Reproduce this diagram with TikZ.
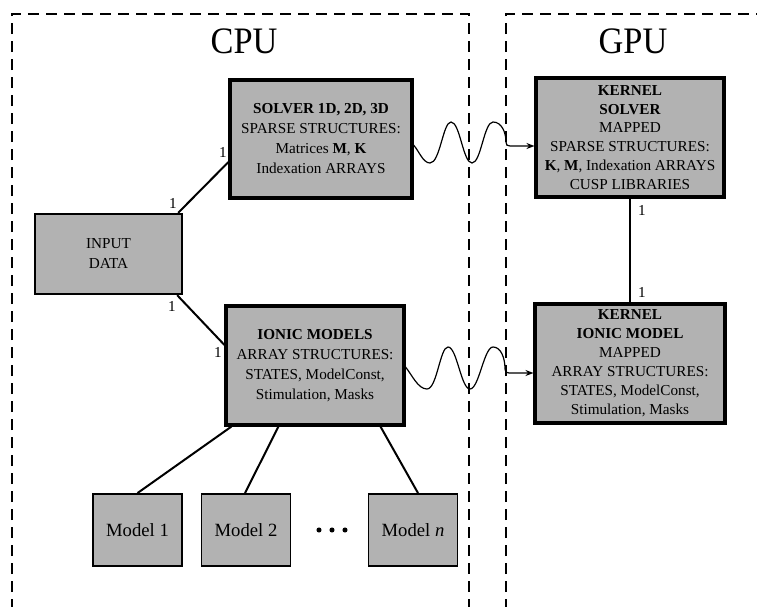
\documentclass[tikz,border=0pt]{standalone}
\usepackage{fontspec}
\setmainfont{Liberation Serif}
\usetikzlibrary{arrows.meta,calc}
\begin{document}
\begin{tikzpicture}[x=0.75pt,y=-0.75pt,
  region/.style={line width=1.7pt,dash pattern=on 8pt off 5.5pt},
  mainbox/.style={draw,line width=2.3pt,fill=black!30,align=center,inner sep=0pt,
    font=\fontsize{11.4}{15}\selectfont},
  kernbox/.style={mainbox,font=\fontsize{11.4}{14.2}\selectfont},
  inbox/.style={draw,line width=1.8pt,fill=black!30,align=center,inner sep=0pt,
    font=\fontsize{11.4}{15}\selectfont},
  modbox/.style={draw,line width=1.4pt,fill=black!30,inner sep=0pt,
    minimum width=66.75pt,minimum height=54pt,font=\fontsize{14}{16}\selectfont},
  link/.style={line width=1.5pt},
  wave/.style={line width=0.9pt,-{Stealth[length=6pt,width=4.5pt]}},
  mult/.style={inner sep=0pt,font=\fontsize{11.4}{13}\selectfont},
  title/.style={inner sep=0pt,font=\fontsize{28}{30}\selectfont}]
\useasboundingbox (0,0) rectangle (757,607);
% regions
\draw[region] (12,610) -- (12,14) -- (469,14) -- (469,610);
\draw[region] (506,610) -- (506,14) -- (760,14);
\node[title,anchor=base] (cpu) at (244,53) {\scalebox{0.92}[1]{CPU}};
\node[title,anchor=base] (gpu) at (633,53) {\scalebox{0.92}[1]{GPU}};
% boxes
\node[mainbox,minimum width=136.5pt,minimum height=88.5pt] (solver) at (321,139)
  {\textbf{SOLVER 1D, 2D, 3D}\\SPARSE STRUCTURES:\\Matrices \textbf{M}, \textbf{K}\\Indexation ARRAYS};
\node[kernbox,minimum width=141pt,minimum height=89.25pt] (ksolver) at (630,137.5)
  {\textbf{KERNEL}\\\textbf{SOLVER}\\MAPPED\\SPARSE STRUCTURES:\\\textbf{K}, \textbf{M}, Indexation ARRAYS\\CUSP LIBRARIES};
\node[inbox,minimum width=110.25pt,minimum height=60pt] (input) at (108.5,254)
  {INPUT\\DATA};
\node[mainbox,minimum width=133.5pt,minimum height=89.25pt] (ionic) at (315,365.5)
  {\textbf{IONIC MODELS}\\ARRAY STRUCTURES:\\STATES, ModelConst,\\Stimulation, Masks};
\node[kernbox,minimum width=142.5pt,minimum height=89.25pt] (kionic) at (630,363.5)
  {\textbf{KERNEL}\\\textbf{IONIC MODEL}\\MAPPED\\ARRAY STRUCTURES:\\STATES, ModelConst,\\Stimulation, Masks};
\node[modbox] (m1) at (137.5,530) {Model 1};
\node[modbox] (m2) at (246,530) {Model 2};
\node[modbox] (mn) at (413,530) {Model \textit{n}};
\fill (319,530) circle (1.9pt) (332,530) circle (1.9pt) (345,530) circle (1.9pt);
% links
\draw[link] ($(input.north east)+(-5,0)$) -- ($(solver.west)+(0,23)$);
\draw[link] ($(input.south east)+(-6,0)$) -- ($(ionic.west)+(0,-20.5)$);
\draw[link] ($(ionic.south west)+(7,0)$) -- (m1.north);
\draw[link] ($(ionic.south west)+(54,0)$) -- ($(m2.north)+(-1,0)$);
\draw[link] ($(ionic.south west)+(156,0)$) -- ($(mn.north)+(5,0)$);
\draw[link] (ksolver.south) -- (kionic.north);
% multiplicities
\node[mult] (l1) at (173,203) {1};
\node[mult] (l2) at (223,152) {1};
\node[mult] (l3) at (172,306) {1};
\node[mult] (l4) at (218,352) {1};
\node[mult] (l5) at (642,210) {1};
\node[mult] (l6) at (642,292) {1};
% waves
\draw[wave] ($(solver.east)+(0,6)$) .. controls (419,151) and (423,163) .. (430,163)
  .. controls (440,163) and (443,122) .. (451,122)
  .. controls (460,122) and (463,163) .. (472,163)
  .. controls (481,163) and (484,122) .. (493,122)
  .. controls (502,122) and (506,133) .. (506,142)
  .. controls (506,145) and (507,146) .. (510,146)
  -- ($(ksolver.west)+(0,8.5)$);
\draw[wave] ($(ionic.east)+(0,1.5)$) .. controls (412,375) and (418,389) .. (427,389)
  .. controls (437,389) and (440,347) .. (448,347)
  .. controls (457,347) and (461,389) .. (470,389)
  .. controls (479,389) and (484,347) .. (493,347)
  .. controls (501,347) and (505,358) .. (505,369)
  .. controls (505,372) and (506,373) .. (509,373)
  -- ($(kionic.west)+(0,9.5)$);
\end{tikzpicture}
\end{document}
